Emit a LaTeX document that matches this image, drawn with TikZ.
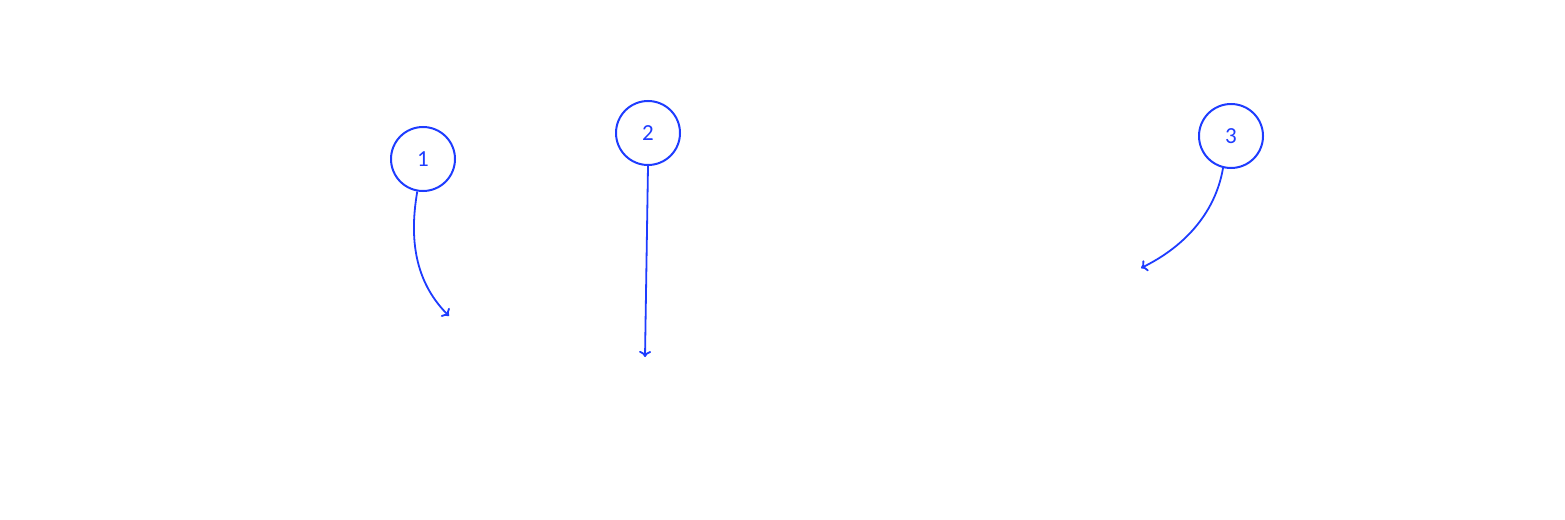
\documentclass[tikz,border=0pt]{standalone}
\usepackage{fontspec}
\setmainfont{Carlito}
\usetikzlibrary{arrows.meta}
\definecolor{lineblue}{RGB}{30,60,255}
\begin{document}
\begin{tikzpicture}[x=1pt,y=-1pt,
  circ/.style={circle,draw=lineblue,line width=2pt,minimum size=64pt,inner sep=0pt,text=lineblue,font=\fontsize{23}{24}\selectfont},
  conn/.style={draw=lineblue,line width=1.8pt,-{To[length=6pt,width=12pt]}}]
\useasboundingbox (0,0) rectangle (1565,519);
\node[circ] (n1) at (423,159) {1};
\node[circ] (n2) at (648,133) {2};
\node[circ] (n3) at (1231,136) {3};
\coordinate (e1) at (449,316);
\coordinate (e2) at (645,357);
\coordinate (e3) at (1141,268);
\draw[conn] (n1.-100) .. controls (408,245) and (418,285) .. (e1);
\draw[conn] (n2.south) -- (e2);
\draw[conn] (n3.-104) .. controls (1215,215) and (1182,248) .. (e3);
\end{tikzpicture}
\end{document}
